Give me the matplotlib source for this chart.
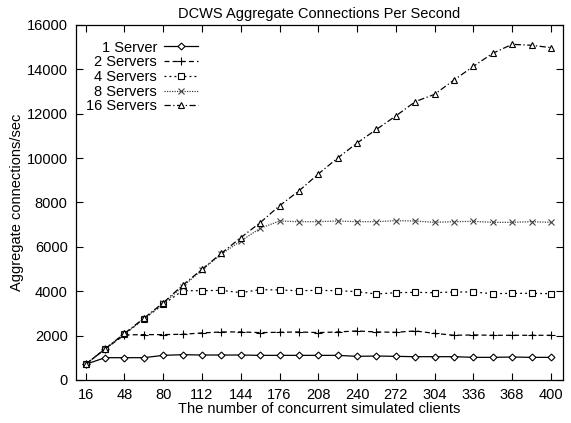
import matplotlib.pyplot as plt
import numpy as np

plt.rcParams['font.family'] = ['Liberation Sans', 'DejaVu Sans']

clients = list(range(16, 401, 16))

one_server = [706, 1005, 1005, 1005, 1110, 1140, 1125, 1125, 1125, 1110, 1110,
              1110, 1110, 1110, 1065, 1080, 1065, 1050, 1050, 1050, 1020, 1020,
              1035, 1020, 1020]
two_servers = [706, 1400, 2030, 2045, 2045, 2060, 2120, 2165, 2165, 2135, 2150,
               2165, 2135, 2165, 2210, 2165, 2150, 2210, 2100, 2015, 2030, 2015,
               2015, 2015, 2015]
four_servers = [706, 1400, 2060, 2750, 3410, 4025, 4025, 4040, 3935, 4070, 4055,
                4025, 4040, 4025, 3980, 3875, 3935, 3950, 3935, 3965, 3965, 3890,
                3905, 3905, 3890]
eight_servers = [706, 1400, 2060, 2760, 3450, 4200, 4960, 5680, 6265, 6835, 7165,
                 7135, 7135, 7165, 7135, 7135, 7180, 7165, 7105, 7135, 7150, 7105,
                 7105, 7135, 7105]
sixteen_servers = [706, 1400, 2100, 2780, 3480, 4270, 4990, 5710, 6415, 7090, 7855,
                   8520, 9285, 10005, 10680, 11295, 11900, 12545, 12875, 13520,
                   14135, 14725, 15130, 15085, 14980]

xticks = list(range(16, 401, 32))
yticks = list(range(0, 16001, 2000))

fig = plt.figure(figsize=(5.71, 4.23), dpi=100)
ax = fig.add_axes([0.1331, 0.1017, 0.8529, 0.8392])

common = dict(color='black', lw=0.9, ms=4.5, mfc='white', mew=0.8)
ax.plot(clients, one_server, ls='-', marker='D', label='1 Server',
        **dict(common, ms=3.5))
ax.plot(clients, two_servers, ls=(0, (4, 2.5)), marker='+', label='2 Servers',
        **dict(common, ms=6))
ax.plot(clients, four_servers, ls=(0, (1.5, 2.5)), marker='s', label='4 Servers',
        **common)
ax.plot(clients, eight_servers, ls=(0, (1, 1)), marker='x', label='8 Servers',
        **dict(common, color='#444444', ms=5))
ax.plot(clients, sixteen_servers, ls=(0, (5, 2, 1, 2)), marker='^', label='16 Servers',
        **common)

ax.set_xlim(8, 410)
ax.set_ylim(0, 16000)
ax.set_xticks(xticks)
ax.set_yticks(yticks)
ax.tick_params(direction='in', length=5, width=0.8, top=True, right=True,
               labelsize=10.5, pad=6)
for s in ax.spines.values():
    s.set_linewidth(0.9)

ax.set_title('DCWS Aggregate Connections Per Second', fontsize=10.5, pad=5)
ax.set_xlabel('The number of concurrent simulated clients', fontsize=10.5, labelpad=0)
ax.set_ylabel('Aggregate connections/sec', fontsize=10.5, labelpad=2)

ax.legend(loc='upper left', frameon=False, markerfirst=False, fontsize=10.5,
          handlelength=2.3, labelspacing=0.05, handletextpad=0.5,
          borderaxespad=0.3, bbox_to_anchor=(0.0, 0.985))

fig.savefig('out.png', dpi=100)
